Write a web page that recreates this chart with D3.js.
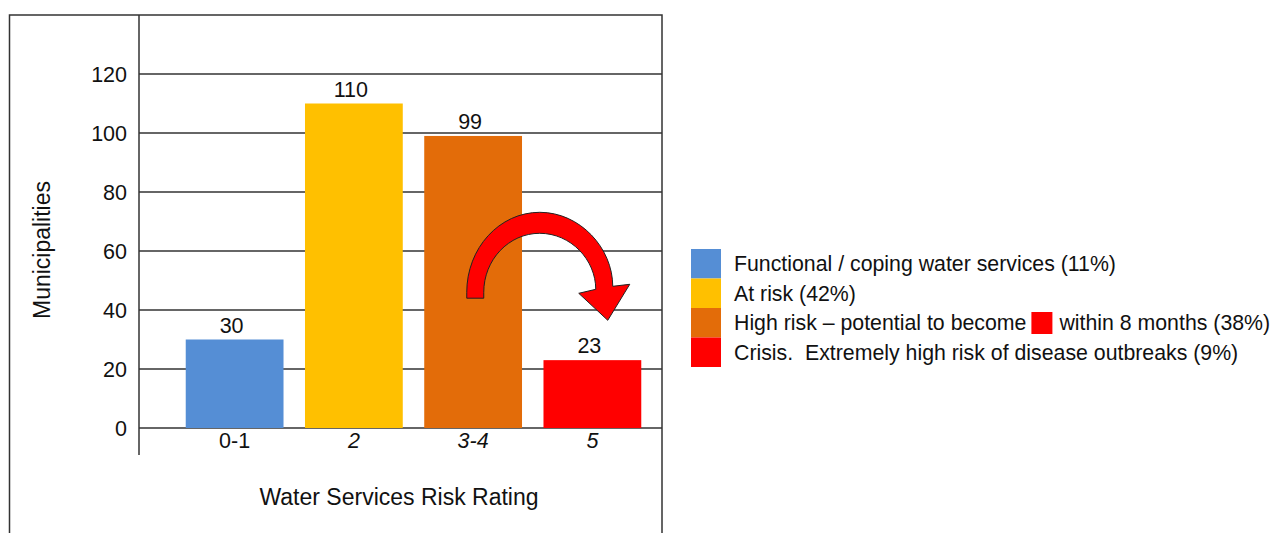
<!DOCTYPE html>
<html>
<head>
<meta charset="utf-8">
<script src="https://cdn.jsdelivr.net/npm/d3@7"></script>
<style>
  body { margin: 0; background: #fff; }
  text { font-family: "Liberation Sans", Arial, sans-serif; fill: #111; white-space: pre; }
</style>
</head>
<body>
<div class="canvas"></div>
<script>
// data
const categories = ["0-1", "2", "3-4", "5"];
const municipalities = [30, 110, 99, 23];
const yTicks = [0, 20, 40, 60, 80, 100, 120];
const legendLabels = [
  "Functional / coping water services (11%)",
  "At risk (42%)",
  "High risk \u2013 potential to become",
  "Crisis.  Extremely high risk of disease outbreaks (9%)"
];
const legendSuffix = ["", "", "within 8 months (38%)", ""];

const colors = ["#558ED5", "#FFC000", "#E36C09", "#FF0000"];
const italicTicks = ["2", "3-4", "5"];

const width = 1281;
const height = 533;

const svg = d3
  .select(".canvas")
  .append("svg")
  .attr("width", width)
  .attr("height", height);

// scales
const x = d3.scaleBand().domain(categories).range([175, 652]).paddingInner(0.18).paddingOuter(0.09);
const y = d3.scaleLinear().domain([0, 140]).range([428, 15]);

const plotLeft = 139;
const plotRight = 662;

// outer frame
svg.append("rect")
  .attr("x", 9.5)
  .attr("y", y(140))
  .attr("width", plotRight - 9.5)
  .attr("height", 600)
  .attr("fill", "none")
  .attr("stroke", "#333")
  .attr("stroke-width", 1.5);

// gridlines
svg.append("g")
  .selectAll("line")
  .data(yTicks)
  .join("line")
  .attr("x1", plotLeft)
  .attr("x2", plotRight)
  .attr("y1", (d) => y(d))
  .attr("y2", (d) => y(d))
  .attr("stroke", "#333")
  .attr("stroke-width", 1.4);

// bars
svg.append("g")
  .selectAll("rect")
  .data(municipalities)
  .join("rect")
  .attr("x", (d, i) => x(categories[i]))
  .attr("y", (d) => y(d))
  .attr("width", x.bandwidth())
  .attr("height", (d) => y(0) - y(d))
  .attr("fill", (d, i) => colors[i]);

// y axis line
svg.append("line")
  .attr("x1", plotLeft)
  .attr("x2", plotLeft)
  .attr("y1", y(140))
  .attr("y2", 455)
  .attr("stroke", "#333")
  .attr("stroke-width", 1.5);

// y tick labels
svg.append("g")
  .selectAll("text")
  .data(yTicks)
  .join("text")
  .attr("x", 127)
  .attr("y", (d) => y(d))
  .attr("dy", "0.36em")
  .attr("text-anchor", "end")
  .style("font-size", "21.5px")
  .text((d) => d);

// x tick labels
svg.append("g")
  .selectAll("text")
  .data(categories)
  .join("text")
  .attr("x", (d) => x(d) + x.bandwidth() / 2)
  .attr("y", 448)
  .attr("text-anchor", "middle")
  .style("font-size", "21.5px")
  .style("font-style", (d) => (italicTicks.includes(d) ? "italic" : "normal"))
  .text((d) => d);

// value labels
svg.append("g")
  .selectAll("text")
  .data(municipalities)
  .join("text")
  .attr("x", (d, i) => x(categories[i]) + x.bandwidth() / 2 - 3)
  .attr("y", (d) => y(d) - 7)
  .attr("text-anchor", "middle")
  .style("font-size", "21.5px")
  .text((d) => d);

// axis titles
svg.append("text")
  .attr("transform", "translate(50, 250) rotate(-90)")
  .attr("text-anchor", "middle")
  .style("font-size", "23px")
  .text("Municipalities");

svg.append("text")
  .attr("x", 399)
  .attr("y", 505)
  .attr("text-anchor", "middle")
  .style("font-size", "23px")
  .text("Water Services Risk Rating");

// curved arrow from 3-4 to 5
const cx = (x("3-4") + x("5") + x.bandwidth()) / 2 + 7;
const cy = y(46);
const oRx = 73, oRy = 80, iRx = 56, iRy = 59;
const shaftEnd = y(44);
const arrow = d3.path();
arrow.moveTo(cx - oRx, shaftEnd);
arrow.lineTo(cx - oRx, cy);
// elliptical arcs as bezier quadrants
const k = 0.5523;
arrow.bezierCurveTo(cx - oRx, cy - oRy * k, cx - oRx * k, cy - oRy, cx, cy - oRy);
arrow.bezierCurveTo(cx + oRx * k, cy - oRy, cx + oRx, cy - oRy * k, cx + oRx, cy - 6);
arrow.lineTo(cx + oRx + 17, cy - 8);
arrow.lineTo(cx + oRx - 5, cy + 28);
arrow.lineTo(cx + iRx - 17, cy + 1);
arrow.lineTo(cx + iRx, cy - 3);
arrow.bezierCurveTo(cx + iRx, cy - iRy * k, cx + iRx * k, cy - iRy, cx, cy - iRy);
arrow.bezierCurveTo(cx - iRx * k, cy - iRy, cx - iRx, cy - iRy * k, cx - iRx, cy);
arrow.lineTo(cx - iRx, shaftEnd);
arrow.closePath();

svg.append("path")
  .attr("d", arrow.toString())
  .attr("fill", "#FF0000")
  .attr("stroke", "#222")
  .attr("stroke-width", 1);

// legend
const legend = svg.append("g").attr("transform", "translate(691, 249)");
const rowH = 29.5;

legend.selectAll("rect")
  .data(legendLabels)
  .join("rect")
  .attr("x", 0)
  .attr("y", (d, i) => i * rowH)
  .attr("width", 30)
  .attr("height", rowH)
  .attr("fill", (d, i) => colors[i]);

const legendText = legend.selectAll("text")
  .data(legendLabels)
  .join("text")
  .attr("x", 43)
  .attr("y", (d, i) => i * rowH + rowH / 2)
  .attr("dy", "0.36em")
  .style("font-size", "21.3px")
  .text((d) => d);

// inline red square and suffix for the third row
legendText.each(function (d, i) {
  if (!legendSuffix[i]) return;
  const w = this.getComputedTextLength();
  legend.append("rect")
    .attr("x", 43 + w + 5)
    .attr("y", i * rowH + 4)
    .attr("width", 21)
    .attr("height", 22)
    .attr("fill", colors[3]);
  legend.append("text")
    .attr("x", 43 + w + 33)
    .attr("y", i * rowH + rowH / 2)
    .attr("dy", "0.36em")
    .style("font-size", "21.3px")
    .text(legendSuffix[i]);
});
</script>
</body>
</html>
